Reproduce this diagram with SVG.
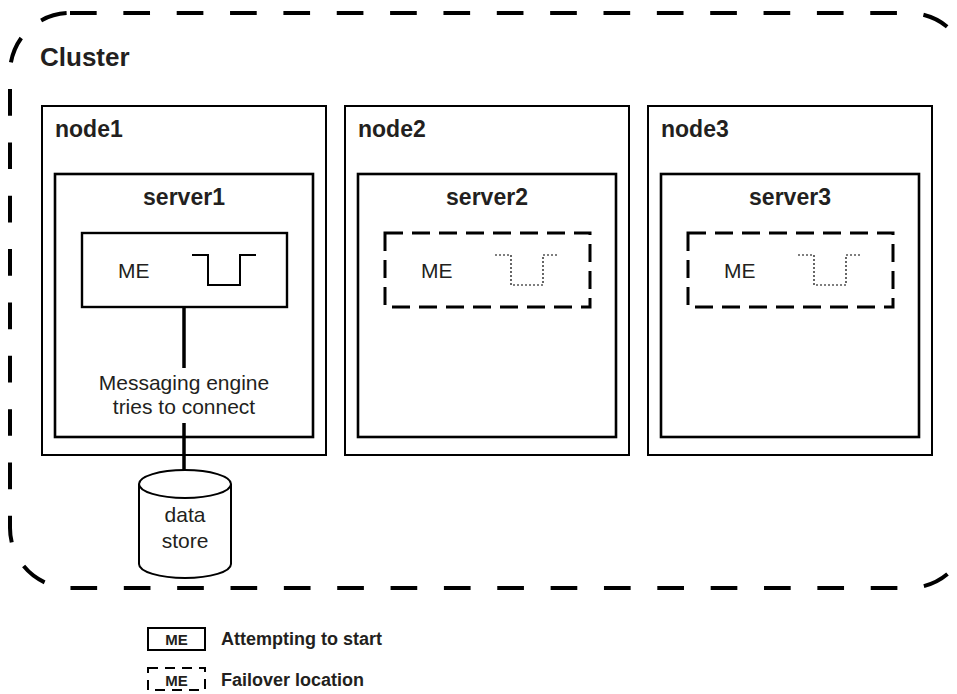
<svg xmlns="http://www.w3.org/2000/svg" width="957" height="694" viewBox="0 0 957 694">
<style>
.t{font-family:"Liberation Sans",Arial,Helvetica,sans-serif;fill:#231f20}
.b{font-weight:bold}
.box{fill:#fff;stroke:#000;stroke-width:2}
.srv{fill:#fff;stroke:#000;stroke-width:2.6}
.me{fill:#fff;stroke:#000;stroke-width:2.4}
.med{fill:#fff;stroke:#000;stroke-width:3;stroke-dasharray:18 9}
.wave{fill:none;stroke:#000;stroke-width:2}
.waved{fill:none;stroke:#000;stroke-width:1.2;stroke-dasharray:2 2}
.conn{stroke:#000;stroke-width:3.5;fill:none}
</style>
<path id="cluster" d="M70,13 H909 A60,60 0 0 1 969,73 V528 A60,60 0 0 1 909,588 H70 A60,60 0 0 1 10,528 V73 A60,60 0 0 1 70,13 Z" fill="none" stroke="#000" stroke-width="4" stroke-dasharray="26.675 26.675"/>
<text class="t b" x="40" y="66" font-size="26">Cluster</text>

<g id="node1">
<rect class="box" x="42" y="106" width="284" height="349"/>
<text class="t b" x="55" y="137" font-size="23">node1</text>
</g>
<g id="server1">
<rect class="srv" x="55" y="174" width="258" height="263"/>
<text class="t b" x="184" y="205" font-size="23" text-anchor="middle">server1</text>
</g>
<g id="me1">
<rect class="me" x="82" y="233" width="205" height="74"/>
<text class="t" x="118" y="278" font-size="21">ME</text>
<polyline class="wave" points="192,255 208,255 208,285 240,285 240,255 256,255"/>
</g>

<g id="node2">
<rect class="box" x="345" y="106" width="284" height="349"/>
<text class="t b" x="358" y="137" font-size="23">node2</text>
</g>
<g id="server2">
<rect class="srv" x="358" y="174" width="258" height="263"/>
<text class="t b" x="487" y="205" font-size="23" text-anchor="middle">server2</text>
</g>
<g id="me2">
<rect class="med" x="385" y="233" width="205" height="74"/>
<text class="t" x="421" y="278" font-size="21">ME</text>
<polyline class="waved" points="495,255 511,255 511,285 543,285 543,255 559,255"/>
</g>

<g id="node3">
<rect class="box" x="648" y="106" width="284" height="349"/>
<text class="t b" x="661" y="137" font-size="23">node3</text>
</g>
<g id="server3">
<rect class="srv" x="661" y="174" width="258" height="263"/>
<text class="t b" x="790" y="205" font-size="23" text-anchor="middle">server3</text>
</g>
<g id="me3">
<rect class="med" x="688" y="233" width="205" height="74"/>
<text class="t" x="724" y="278" font-size="21">ME</text>
<polyline class="waved" points="798,255 814,255 814,285 846,285 846,255 862,255"/>
</g>

<g id="connectors">
<line class="conn" x1="184" y1="307" x2="184" y2="368"/>
<line class="conn" x1="184" y1="423" x2="184" y2="470"/>
<text class="t" x="184" y="390" font-size="21" text-anchor="middle">Messaging engine</text>
<text class="t" x="184" y="414" font-size="21" text-anchor="middle">tries to connect</text>
</g>

<g id="datastore">
<path d="M139,484 V564 A46,14 0 0 0 231,564 V484" fill="#fff" stroke="#000" stroke-width="2"/>
<ellipse cx="185" cy="484" rx="46" ry="14" fill="#fff" stroke="#000" stroke-width="2"/>
<text class="t" x="185" y="522" font-size="21" text-anchor="middle">data</text>
<text class="t" x="185" y="548" font-size="21" text-anchor="middle">store</text>
</g>

<g id="legend">
<rect x="148" y="628" width="57" height="22" fill="#fff" stroke="#000" stroke-width="2"/>
<text class="t b" x="176.5" y="645" font-size="15" text-anchor="middle">ME</text>
<text class="t b" x="221" y="645" font-size="18">Attempting to start</text>
<rect x="148" y="668" width="57" height="22" fill="none" stroke="#000" stroke-width="2" stroke-dasharray="10 7"/>
<text class="t b" x="176.5" y="686" font-size="15" text-anchor="middle">ME</text>
<text class="t b" x="221" y="686" font-size="18">Failover location</text>
</g>
</svg>
